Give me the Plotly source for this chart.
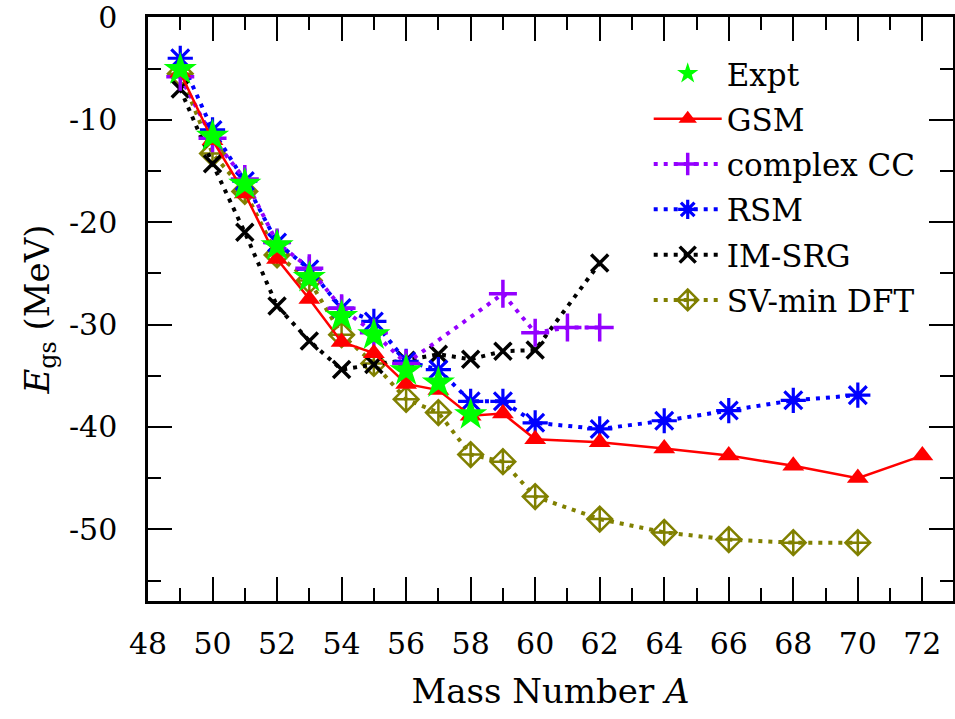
import plotly.graph_objects as go

# ---------------- data ----------------
A_expt = [49, 50, 51, 52, 53, 54, 55, 56, 57, 58]
E_expt = [-5.1, -11.6, -16.3, -22.3, -25.4, -29.2, -31.0, -34.5, -35.7, -38.8]

A_gsm = [49, 50, 51, 52, 53, 54, 55, 56, 57, 58, 59, 60, 62, 64, 66, 68, 70, 72]
E_gsm = [-5.4, -12.0, -17.2, -23.6, -27.5, -31.7, -32.8, -35.8, -36.4, -38.9, -38.7,
         -41.2, -41.5, -42.1, -42.8, -43.8, -45.0, -42.8]

A_cc = [49, 50, 51, 52, 53, 54, 55, 56, 59, 60, 61, 62]
E_cc = [-5.8, -11.8, -15.8, -22.0, -24.5, -28.4, -30.8, -33.8, -27.0, -30.8, -30.3, -30.3]

A_rsm = [49, 50, 51, 52, 53, 54, 55, 56, 57, 58, 59, 60, 62, 64, 66, 68, 70]
E_rsm = [-4.0, -11.0, -16.0, -22.0, -24.6, -28.4, -29.7, -33.6, -34.4, -37.5, -37.5,
         -39.6, -40.2, -39.4, -38.4, -37.4, -36.9]

A_im = [49, 50, 51, 52, 53, 54, 55, 56, 57, 58, 59, 60, 62]
E_im = [-7.0, -14.3, -21.0, -28.2, -31.6, -34.4, -33.9, -33.5, -32.9, -33.4, -32.6, -32.5, -24.0]

A_dft = [49, 50, 51, 52, 53, 54, 55, 56, 57, 58, 59, 60, 62, 64, 66, 68, 70]
E_dft = [-5.5, -13.3, -17.0, -23.2, -25.7, -31.0, -33.8, -37.3, -38.6, -42.7, -43.4,
         -46.8, -49.0, -50.3, -51.0, -51.3, -51.3]

y_tickvals = [0, -10, -20, -30, -40, -50]
y_ticktext = ["0", "-10", "-20", "-30", "-40", "-50"]
x_tickvals = [48, 50, 52, 54, 56, 58, 60, 62, 64, 66, 68, 70, 72]

FONT = "DejaVu Serif"
DOT = "4px,6px"

fig = go.Figure()

fig.add_trace(go.Scatter(
    x=A_dft, y=E_dft, name="SV-min DFT", mode="lines+markers", legendgroup="g6", legendrank=6,
    line=dict(color="#808000", width=4, dash=DOT),
    marker=dict(symbol="diamond-cross-open", size=19, color="#808000",
                line=dict(width=2.5, color="#808000"))))
fig.add_trace(go.Scatter(
    x=A_im, y=E_im, name="IM-SRG", mode="lines+markers", legendgroup="g5", legendrank=5,
    line=dict(color="black", width=4, dash=DOT),
    marker=dict(symbol="x-thin-open", size=17, color="black",
                line=dict(width=3.5, color="black"))))
fig.add_trace(go.Scatter(
    x=A_rsm, y=E_rsm, name="RSM", mode="lines+markers", legendgroup="g4", legendrank=4,
    line=dict(color="#0000ff", width=4, dash=DOT),
    marker=dict(symbol="asterisk-open", size=21, color="#0000ff",
                line=dict(width=3.2, color="#0000ff"))))
fig.add_trace(go.Scatter(
    x=A_cc, y=E_cc, name="complex CC", mode="lines+markers", legendgroup="g3", legendrank=3,
    line=dict(color="#9400ff", width=4, dash=DOT),
    marker=dict(symbol="cross-thin-open", size=20, color="#9400ff",
                line=dict(width=3.5, color="#9400ff"))))
fig.add_trace(go.Scatter(
    x=A_gsm, y=E_gsm, name="GSM", mode="lines+markers", legendgroup="g2", legendrank=2,
    line=dict(color="#ff0000", width=2.5),
    marker=dict(symbol="triangle-up", size=19, color="#ff0000")))
fig.add_trace(go.Scatter(
    x=A_expt, y=E_expt, name="Expt", mode="markers", legendgroup="g1", legendrank=1,
    marker=dict(symbol="star", size=25, color="#00ff00")))

axis_common = dict(
    showline=True, linecolor="black", linewidth=2.5, mirror="allticks",
    ticks="inside", ticklen=24, tickwidth=2, tickcolor="black",
    showgrid=False, zeroline=False, automargin=False,
    ticklabeloverflow="allow",
    tickfont=dict(family=FONT, size=30, color="black"),
)

fig.update_xaxes(
    range=[48, 72.95], tickvals=x_tickvals, ticklabelstandoff=14,
    minor=dict(dtick=1, tick0=48, ticks="inside", ticklen=13, tickwidth=2, tickcolor="black"),
    title=dict(text="Mass Number <i>A</i>", font=dict(family=FONT, size=34, color="black"),
               standoff=20),
    **axis_common)
fig.update_yaxes(
    range=[-57, 0.03], tickvals=y_tickvals, ticktext=y_ticktext, ticklabelstandoff=22,
    minor=dict(dtick=5, tick0=0, ticks="inside", ticklen=13, tickwidth=2, tickcolor="black"),
    title=dict(text="<i>E</i><sub>gs</sub> (MeV)", font=dict(family=FONT, size=34, color="black"),
               standoff=10),
    **axis_common)

fig.update_layout(
    width=955, height=719,
    margin=dict(l=148, r=2, t=17, b=118),
    plot_bgcolor="white", paper_bgcolor="white",
    font=dict(family=FONT, color="black"),
    legend=dict(x=0.622, y=0.949, xanchor="left", yanchor="top",
                traceorder="grouped", tracegroupgap=2,
                bgcolor="rgba(0,0,0,0)",
                font=dict(family=FONT, size=31, color="black"),
                itemwidth=68),
    showlegend=True,
)

fig.write_html("out.html",
               config={"displayModeBar": False},
               post_script="document.body.style.margin='0';document.body.style.overflow='hidden';")
